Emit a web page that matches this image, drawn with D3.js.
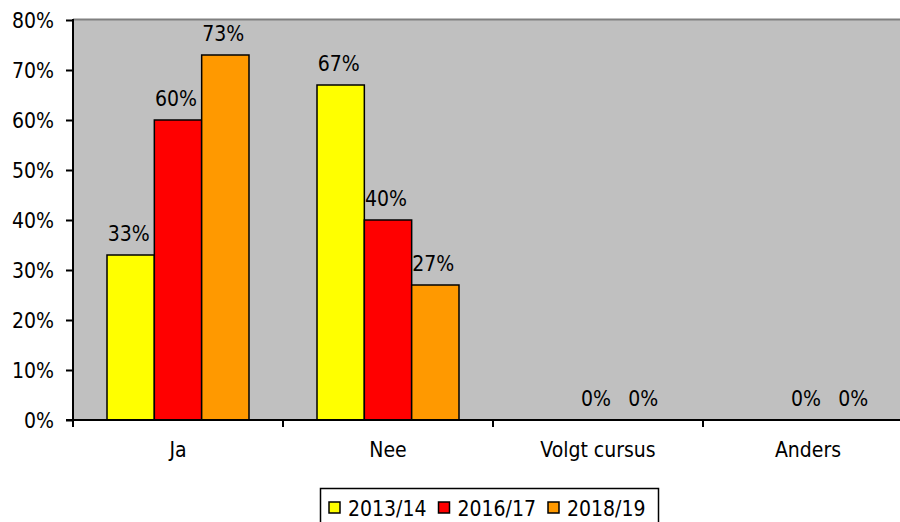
<!DOCTYPE html>
<html><head><meta charset="utf-8">
<script src="https://cdn.jsdelivr.net/npm/d3@7"></script>
<style>
html,body{margin:0;padding:0;background:#fff;}
svg{display:block;}
text{font-family:'DejaVu Sans Condensed','DejaVu Sans',sans-serif;font-stretch:condensed;font-size:21px;fill:#000;}
</style></head>
<body><svg id="c" width="900" height="522"></svg>
<script>
const categories = ["Ja", "Nee", "Volgt cursus", "Anders"];
const seriesNames = ["2013/14", "2016/17", "2018/19"];
const values2013 = [33, 67, null, null];
const values2016 = [60, 40, 0, 0];
const values2018 = [73, 27, 0, 0];
const seriesColors = ["#FFFF00", "#FF0000", "#FF9900"];
const yTicks = [0, 10, 20, 30, 40, 50, 60, 70, 80];

(function () {
const seriesValues = [values2013, values2016, values2018];
const svg = d3.select("#c");
const pLeft = 73, pTop = 20, pBottom = 420, band = 210;
const x0 = d3.scaleBand().domain(categories).range([pLeft, pLeft + band * categories.length]).padding(0);
const x1 = d3.scaleBand().domain(seriesNames).range([34, band - 34]).padding(0);
const y = d3.scaleLinear().domain([0, 80]).range([pBottom, pTop]);

// plot area
svg.append("rect").attr("x", pLeft).attr("y", pTop).attr("width", x0.range()[1] - pLeft).attr("height", pBottom - pTop).attr("fill", "#C0C0C0");
svg.append("line").attr("x1", pLeft).attr("x2", x0.range()[1]).attr("y1", pTop - 0.5).attr("y2", pTop - 0.5).attr("stroke", "#808080").attr("stroke-width", 2);

// bars
const data = [];
categories.forEach((c, ci) => seriesNames.forEach((s, si) => {
  const v = seriesValues[si][ci];
  if (v !== null) data.push({c, s, si, v});
}));
svg.append("g").selectAll("rect").data(data).join("rect")
  .attr("x", d => x0(d.c) + x1(d.s))
  .attr("y", d => y(d.v))
  .attr("width", x1.bandwidth())
  .attr("height", d => pBottom - y(d.v))
  .attr("fill", d => seriesColors[d.si])
  .attr("stroke", "#000").attr("stroke-width", 1.5);

// labels
svg.append("g").selectAll("text").data(data).join("text")
  .attr("x", d => x0(d.c) + x1(d.s) + x1.bandwidth() / 2 - 2)
  .attr("y", d => y(d.v) - 14)
  .attr("text-anchor", "middle")
  .text(d => Math.round(d.v) + "%");

// y axis
const yAxis = d3.axisLeft(y).tickValues(yTicks).tickFormat(d => d + "%").tickSize(7).tickPadding(12);
const gy = svg.append("g").attr("transform", `translate(${pLeft},0)`).call(yAxis);
gy.attr("font-size", null).attr("font-family", null);
gy.select(".domain").attr("stroke", "#000").attr("stroke-width", 2).attr("d", `M0,${pTop - 1}V${pBottom}`);
gy.selectAll(".tick line").attr("stroke", "#000").attr("stroke-width", 2);
gy.selectAll(".tick text").attr("dy", "0.36em");

// x axis
const xAxis = d3.axisBottom(x0).tickSize(0).tickPadding(0);
const gx = svg.append("g").attr("transform", `translate(0,${pBottom})`).call(xAxis);
gx.attr("font-size", null).attr("font-family", null);
gx.select(".domain").attr("stroke", "#000").attr("stroke-width", 2).attr("d", `M${pLeft - 7},0H${x0.range()[1]}`);
gx.selectAll(".tick text").attr("y", 37).attr("dy", 0);
// category boundary ticks
gx.append("g").selectAll("line").data(categories).join("line")
  .attr("x1", d => x0(d)).attr("x2", d => x0(d))
  .attr("y1", 0).attr("y2", 7).attr("stroke", "#000").attr("stroke-width", 2);

// legend
const lg = svg.append("g");
lg.append("rect").attr("x", 320.5).attr("y", 488.5).attr("width", 338).attr("height", 40)
  .attr("fill", "#fff").attr("stroke", "#000").attr("stroke-width", 1.5);
seriesNames.forEach((s, i) => {
  const lx = 329 + i * 109.5;
  lg.append("rect").attr("x", lx).attr("y", 502).attr("width", 11).attr("height", 11)
    .attr("fill", seriesColors[i]).attr("stroke", "#000").attr("stroke-width", 1.5);
  lg.append("text").attr("x", lx + 19).attr("y", 515.5).text(s);
});
})();
</script></body></html>
